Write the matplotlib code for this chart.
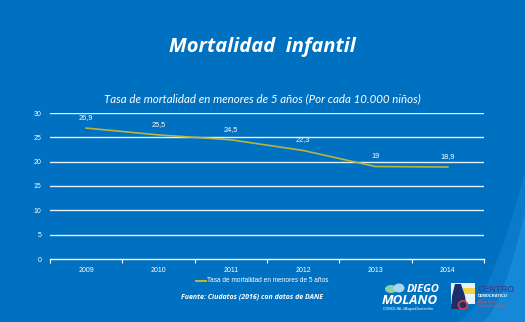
import matplotlib

matplotlib.use("Agg")
import numpy as np
import matplotlib.pyplot as plt
from matplotlib.patches import Polygon, Rectangle, Ellipse

years = ["2009", "2010", "2011", "2012", "2013", "2014"]
rate = [26.9, 25.5, 24.5, 22.3, 19.0, 18.9]
rate_labels = ["26,9", "25,5", "24,5", "22,3", "19", "18,9"]
y_ticks = [0, 5, 10, 15, 20, 25, 30]

BG = "#0070c0"
LINE = "#b9b43e"
GRID = "#e6f0fa"

fig = plt.figure(figsize=(5.25, 3.22), dpi=100, facecolor=BG)


def px(x, y):
    # pixel position -> figure fraction
    return (x / 525, 1 - y / 322)


# soft lighter swoosh in the lower right corner
t = np.linspace(0, 1, 40)
edge = [px(455 + 70 * s ** 0.8, 322 - 150 * s ** 1.4) for s in t]
fig.patches.append(Polygon(edge + [px(525, 322)], closed=True,
                           transform=fig.transFigure, facecolor="#0b7acb",
                           edgecolor="none", zorder=0))
edge2 = [px(480 + 45 * s ** 0.8, 322 - 110 * s ** 1.4) for s in t]
fig.patches.append(Polygon(edge2 + [px(525, 322)], closed=True,
                           transform=fig.transFigure, facecolor="#1588d6",
                           edgecolor="none", zorder=0))

fig.text(0.5, 0.855, "Mortalidad  infantil", ha="center", va="center",
         color="white", fontsize=14.5, fontweight="bold", style="italic",
         family="Open Sans")
fig.text(0.5, 0.693, "Tasa de mortalidad en menores de 5 años (Por cada 10.000 niños)",
         ha="center", va="center", color="white", fontsize=8.3, style="italic",
         family="Lato")

ax = fig.add_axes([50 / 525, 1 - 259 / 322, 434 / 525, 146 / 322])
ax.set_facecolor("none")
x = list(range(len(years)))
ax.plot(x, rate, color=LINE, linewidth=1.2, zorder=3)
for xi, v, lab in zip(x, rate, rate_labels):
    ax.annotate(lab, (xi, v), xytext=(0, 5), textcoords="offset points",
                ha="center", va="bottom", color="white", fontsize=5.3,
                family="Liberation Sans")

ax.set_xlim(-0.5, len(years) - 0.5)
ax.set_ylim(0, 30)
ax.set_yticks(y_ticks)
ax.set_yticklabels([str(v) for v in y_ticks])
ax.set_xticks(x)
ax.set_xticklabels(years)
ax.set_xticks([i - 0.5 for i in range(len(years) + 1)], minor=True)
for v in y_ticks[1:]:
    ax.axhline(v, color=GRID, linewidth=1.0, zorder=1)
for side in ["top", "right", "left"]:
    ax.spines[side].set_visible(False)
ax.spines["bottom"].set_color("white")
ax.spines["bottom"].set_linewidth(1.0)
ax.tick_params(axis="y", length=0, pad=6, labelsize=5, labelcolor="white")
ax.tick_params(axis="x", which="major", length=0, pad=6, labelsize=5, labelcolor="white")
ax.tick_params(axis="x", which="minor", length=3, color="white", width=0.8)
for lab in ax.get_xticklabels() + ax.get_yticklabels():
    lab.set_family("Liberation Sans")

# legend entry
fig.lines.append(plt.Line2D([196 / 525, 206 / 525], [1 - 281 / 322] * 2,
                            transform=fig.transFigure, color=LINE, linewidth=1.5))
fig.text(207 / 525, 1 - 281 / 322, "Tasa de mortalidad en menores de 5 años",
         ha="left", va="center", color="white", fontsize=4.7, family="Liberation Sans")

fig.text(252 / 525, 1 - 297 / 322, "Fuente: Ciudatos (2016) con datos de DANE",
         ha="center", va="center", color="white", fontsize=5, style="italic",
         fontweight="bold", family="Open Sans")

# DIEGO MOLANO mark
fig.patches.append(Ellipse(px(391, 289), 12 / 525, 8 / 322,
                           transform=fig.transFigure, facecolor="#8fd1a0",
                           edgecolor="none"))
fig.patches.append(Ellipse(px(399, 288), 11 / 525, 9 / 322,
                           transform=fig.transFigure, facecolor="#a8d8f0",
                           edgecolor="none"))
fig.text(*px(440, 289), "DIEGO", ha="right", va="center", color="white",
         fontsize=8, fontweight="bold", style="italic", family="Open Sans")
fig.text(*px(382, 300), "MOLANO", ha="left", va="center", color="white",
         fontsize=9.5, fontweight="bold", style="italic", family="Open Sans")
fig.text(*px(383, 309), "CONCEJAL #BogotáSostenible", ha="left",
         va="center", color="white", fontsize=2.6, family="Liberation Sans")

# CENTRO DEMOCRÁTICO mark
fig.patches.append(Rectangle(px(451, 304), 24 / 525, 21 / 322,
                             transform=fig.transFigure, facecolor="#e8f2fb",
                             edgecolor="none"))
fig.patches.append(Rectangle(px(463, 294), 12 / 525, 6 / 322,
                             transform=fig.transFigure, facecolor="#f3d34a",
                             edgecolor="none"))
fig.patches.append(Polygon([px(451, 309), px(467, 309), px(465, 296), px(461, 284),
                            px(455, 284), px(452, 296)],
                           closed=True, transform=fig.transFigure,
                           facecolor="#1d2f6b", edgecolor="none"))
fig.patches.append(Ellipse(px(463, 305), 9 / 525, 8 / 322,
                           transform=fig.transFigure, facecolor="none",
                           edgecolor="#e63b3b", linewidth=1.2))
fig.text(*px(478, 289), "CENTRO", ha="left", va="center", color="#2a4a9a",
         fontsize=6.3, fontweight="bold", family="Liberation Sans")
fig.text(*px(478, 296), "DEMOCRÁTICO", ha="left", va="center",
         color="white", fontsize=2.9, fontweight="bold", family="Liberation Sans")
fig.text(*px(478, 304), "Mano firme\nCorazón grande", ha="left",
         va="center", color="#e05050", fontsize=2.7, family="Liberation Sans",
         linespacing=1.1)

fig.savefig("out.png", dpi=100, facecolor=BG)
